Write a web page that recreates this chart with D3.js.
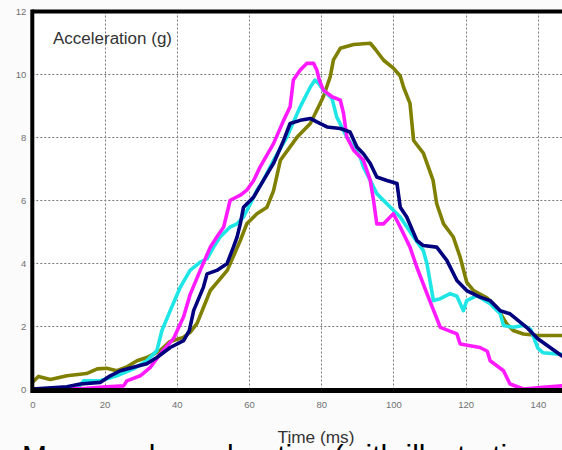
<!DOCTYPE html>
<html><head><meta charset="utf-8">
<script src="https://cdn.jsdelivr.net/npm/d3@7"></script>
<style>
html,body{margin:0;padding:0;background:#fbfbfb;overflow:hidden;}
svg{display:block;}
</style></head>
<body>
<script>
// ---- data ----
const xTicks = [0, 20, 40, 60, 80, 100, 120, 140];
const yTicks = [0, 2, 4, 6, 8, 10, 12];
const seriesNames = ["olive", "cyan", "magenta", "navy"];
const seriesColors = ["#808000", "#1ee6e6", "#ff1aff", "#00007f"];

const olive = [[0,0.21],[1.7,0.4],[5,0.3],[9.6,0.42],[15,0.49],[18,0.64],[20.6,0.66],[23.4,0.58],[26,0.69],[29,0.9],[31.7,1.0],[35.4,1.22],[38,1.5],[41.8,1.64],[43.7,1.8],[45.6,2.08],[49.3,3.13],[54,3.77],[57.6,4.72],[59.4,5.25],[62.2,5.57],[65,5.78],[66.8,6.3],[68.7,7.27],[73.3,8.0],[77,8.44],[78.8,8.86],[80.6,9.29],[82.5,9.92],[83.4,10.46],[85.3,10.83],[89,10.95],[93.6,10.99],[95,10.8],[97.3,10.45],[100,10.2],[101.9,9.95],[102.8,9.6],[104.6,9.08],[105.6,7.9],[108.3,7.5],[111,6.63],[112,5.89],[113.9,5.25],[116.6,4.83],[118.5,4.19],[120.3,3.4],[122.2,3.13],[125.9,2.9],[128.6,2.6],[131.4,2.07],[133.2,1.86],[136,1.75],[140,1.7],[146.7,1.7]];

const cyan = [[0,0],[12.4,0],[14.2,0.26],[18.8,0.26],[23.4,0.42],[28,0.64],[31.7,0.9],[34.5,1.22],[35.9,1.86],[38.2,2.49],[41,3.24],[43.7,3.77],[46.5,4.03],[48.4,4.14],[50.2,4.51],[52,4.83],[54.8,5.15],[56.7,5.25],[58.5,5.47],[60.4,5.89],[62.2,6.32],[64,6.63],[66.8,7.27],[70.5,8.01],[74.2,8.97],[77,9.6],[78.3,9.82],[79.3,9.71],[80.6,9.5],[83,9.24],[84.3,8.65],[87.1,8.01],[89,7.69],[90.8,7.38],[91.7,7.06],[93.6,6.63],[95.4,6.21],[100,5.68],[101.9,5.47],[105.6,4.83],[108.3,4.4],[109.3,3.98],[111.1,2.81],[113,2.87],[115.7,3.03],[117.6,2.95],[119.4,2.49],[120.3,2.81],[123.1,2.97],[126.8,2.71],[129.6,2.39],[130.5,2.02],[133.2,1.96],[136,2.02],[138,1.9],[140,1.3],[141.5,1.15],[146.7,1.1]];

const magenta = [[0,0],[15,0.02],[20.6,0.07],[25.3,0.1],[26.2,0.26],[29.9,0.42],[32.7,0.69],[35.4,1.11],[39.1,1.6],[41.9,2.3],[43.7,3.0],[46.5,3.77],[49.3,4.51],[51.1,4.83],[53,5.15],[54.8,6.0],[57.6,6.16],[59.4,6.32],[61.3,6.63],[63.1,7.06],[66.8,7.8],[69.6,8.54],[71.4,8.97],[72.3,9.82],[74.2,10.14],[76,10.35],[77.9,10.35],[78.8,10.14],[79.5,9.82],[80.6,9.5],[83,9.29],[85.3,9.18],[86.2,8.76],[87.1,8.01],[89,7.59],[91.7,7.27],[93.6,6.63],[94.5,6.0],[95.4,5.25],[97.3,5.25],[100,5.57],[101.9,5.15],[104.6,4.51],[106.5,3.87],[109.3,3.03],[113,1.96],[117.6,1.75],[118.5,1.43],[124,1.32],[126,1.2],[126.8,0.9],[130.5,0.58],[132.3,0.16],[136,0],[140.6,0.05],[146.7,0.1]];

const navy = [[0,0],[9.6,0.07],[13.3,0.16],[18.8,0.21],[21.6,0.42],[24.4,0.58],[28,0.69],[31.7,0.8],[34.5,1.0],[38.2,1.32],[41.9,1.54],[43.5,1.86],[44.7,2.5],[47.4,3.24],[48.4,3.66],[51.1,3.77],[53.9,3.98],[55.7,4.51],[56.7,4.83],[57.6,5.25],[58.5,5.78],[61.3,6.1],[64,6.63],[66.8,7.17],[69.6,7.9],[71.4,8.44],[74.2,8.54],[77,8.6],[78.8,8.49],[81.6,8.33],[85.3,8.28],[88,8.17],[89.9,7.69],[91.7,7.48],[93.6,7.17],[95.4,6.74],[98.2,6.63],[101,6.53],[101.9,5.78],[103.7,5.47],[106.5,4.72],[108.3,4.56],[112,4.51],[114.8,4.09],[117.6,3.45],[120.3,3.13],[124,2.92],[126.8,2.81],[129.6,2.49],[132.3,2.39],[136.9,1.96],[140,1.6],[146.7,1.05]];

const yTitle = "Acceleration (g)";
const xTitle = "Time (ms)";
const caption = "Measured acceleration (with illustrative";

// ---- drawing ----
const W = 562, H = 450;
const x = d3.scaleLinear().domain([0, 146.7]).range([32.3, 562]);
const y = d3.scaleLinear().domain([0, 12]).range([389, 11.5]);

const svg = d3.select("body").append("svg").attr("width", W).attr("height", H);

svg.append("rect").attr("x", x(0)).attr("y", y(12)).attr("width", W - x(0)).attr("height", y(0) - y(12)).attr("fill", "#ffffff");

svg.append("defs").append("clipPath").attr("id", "clip")
  .append("rect").attr("x", x(0)).attr("y", y(12)).attr("width", W - x(0)).attr("height", y(0) - y(12) + 2);

// grid
const grid = svg.append("g").attr("stroke", "#7a7a7a").attr("stroke-width", 1).attr("stroke-dasharray", "2,2");
grid.selectAll("line.v").data(xTicks.filter(d => d > 0)).join("line")
  .attr("x1", d => Math.round(x(d)) + 0.5).attr("x2", d => Math.round(x(d)) + 0.5)
  .attr("y1", y(12)).attr("y2", y(0));
grid.selectAll("line.h").data(yTicks.filter(d => d > 0 && d < 12)).join("line")
  .attr("x1", x(0)).attr("x2", W)
  .attr("y1", d => Math.round(y(d)) + 0.5).attr("y2", d => Math.round(y(d)) + 0.5);

// axes tick labels
const xAxis = d3.axisBottom(x).tickValues(xTicks).tickSize(0).tickPadding(0);
const gx = svg.append("g").attr("transform", `translate(0,${y(0) + 12})`).call(xAxis);
gx.select(".domain").remove();
gx.selectAll("text").attr("fill", "#707070").attr("font-family", "Liberation Sans, Arial, sans-serif").attr("font-size", 9.5);

const yAxis = d3.axisLeft(y).tickValues(yTicks).tickSize(0).tickPadding(0);
const gy = svg.append("g").attr("transform", `translate(${x(0) - 6},0)`).call(yAxis);
gy.select(".domain").remove();
gy.selectAll("text").attr("fill", "#707070").attr("font-family", "Liberation Sans, Arial, sans-serif").attr("font-size", 9.5);

// lines
const line = d3.line().x(d => x(d[0])).y(d => y(d[1]));
const allSeries = [olive, cyan, magenta, navy];
svg.append("g").attr("clip-path", "url(#clip)")
  .selectAll("path").data(allSeries).join("path")
  .attr("d", line)
  .attr("fill", "none")
  .attr("stroke", (d, i) => seriesColors[i])
  .attr("stroke-width", 3.6)
  .attr("stroke-linejoin", "round")
  .attr("stroke-linecap", "round");

// frame
const frame = svg.append("g").attr("stroke", "#000");
frame.append("line").attr("x1", x(0)).attr("x2", W).attr("y1", y(12)).attr("y2", y(12)).attr("stroke-width", 4);
frame.append("line").attr("x1", x(0)).attr("x2", W).attr("y1", y(0) + 1.5).attr("y2", y(0) + 1.5).attr("stroke-width", 5);
frame.append("line").attr("x1", x(0)).attr("x2", x(0)).attr("y1", y(12) - 2).attr("y2", y(0) + 4).attr("stroke-width", 4);

// titles
svg.append("text").attr("x", 53).attr("y", 44)
  .attr("font-family", "Liberation Sans, Arial, sans-serif").attr("font-size", 16)
  .attr("fill", "#333").attr("textLength", 119).attr("lengthAdjust", "spacingAndGlyphs")
  .text(yTitle);

svg.append("text").attr("x", 316).attr("y", 443).attr("text-anchor", "middle")
  .attr("font-family", "Liberation Sans, Arial, sans-serif").attr("font-size", 16)
  .attr("fill", "#333").attr("textLength", 77).attr("lengthAdjust", "spacingAndGlyphs")
  .text(xTitle);

svg.append("text").attr("x", 22).attr("y", 466)
  .attr("font-family", "Liberation Sans, Arial, sans-serif").attr("font-size", 30)
  .attr("fill", "#000")
  .text(caption);
</script>
</body></html>
